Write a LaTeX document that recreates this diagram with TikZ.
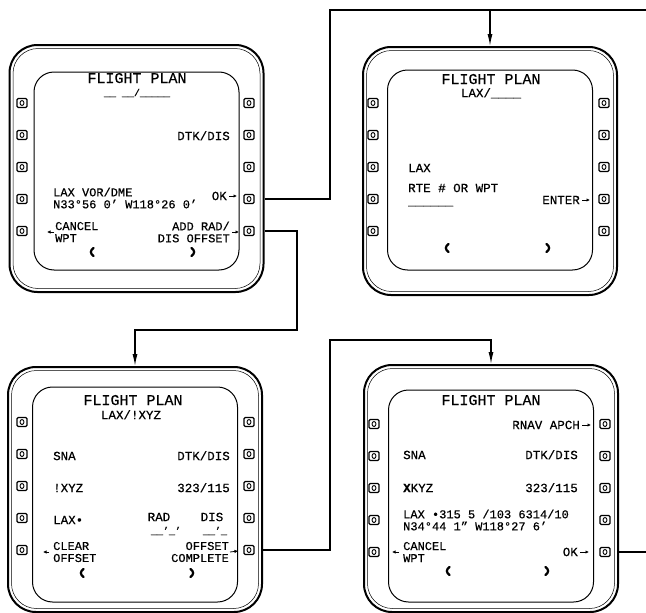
\documentclass[tikz,border=0pt]{standalone}
\usepackage{fontspec}
\setmainfont{Liberation Mono}[FakeBold=0.5]
\usetikzlibrary{arrows.meta}

\tikzset{
  bezel/.style={draw, line width=2pt, rounded corners=28pt, minimum width=254pt, inner sep=0pt},
  bezelin/.style={draw, line width=0.5pt, rounded corners=25pt, minimum width=247pt, inner sep=0pt},
  crt/.style={draw, line width=1pt, rounded corners=20pt, minimum width=205pt, inner sep=0pt},
  lsk/.style={draw, line width=1.3pt, rounded corners=1.2pt, minimum width=10pt, minimum height=9pt, inner sep=0pt,
    path picture={\draw[line width=0.9pt] (path picture bounding box.center) ellipse (2pt and 2.5pt);}},
  ttl/.style={inner sep=0pt, font=\fontsize{15}{16}\selectfont, text height=10pt, text depth=0pt},
  txt/.style={inner sep=0pt, font=\fontsize{12.5}{10}\selectfont, text height=8.2pt, text depth=0pt},
  txtt/.style={inner sep=0pt, font=\fontsize{12}{12}\selectfont},
  blank/.style={inner sep=0pt, font=\fontsize{10}{10}\selectfont, text height=8.2pt, text depth=0pt},
  chev/.style={line width=2.2pt, line cap=round},
  chevl/.pic={\draw[chev] (1.5,-4) .. controls (-2,-1.5) and (-2,1.5) .. (1.5,4);},
  chevr/.pic={\draw[chev] (-1.5,-4) .. controls (2,-1.5) and (2,1.5) .. (-1.5,4);},
  ptr/.style={line width=0.8pt, -{Latex[length=3.5pt,width=3.5pt]}},
  wire/.style={line width=1.2pt},
  flow/.style={wire, -{Latex[length=12pt,width=5pt]}},
}

% one CDU: name, bezel centre x/y, bezel height, screen centre y, screen height,
% key columns left/right, first key row
\newcommand{\cduunit}[9]{%
  \node[bezel, minimum height=#4pt] (#1) at (#2,#3) {};
  \node[bezelin, minimum height={#4pt-7pt}] at (#2,#3) {};
  \node[crt, minimum height=#6pt] (#1crt) at (#2,#5) {};
  \foreach \k in {1,...,5} {
    \node[lsk] (#1l\k) at (#7,{#9+32*(\k-1)}) {};
    \node[lsk] (#1r\k) at (#8,{#9+32*(\k-1)}) {};
  }%
}

\begin{document}
\begin{tikzpicture}[x=1pt, y=-1pt]
  \useasboundingbox (0,0) rectangle (646,613);

  % the four pages
  \cduunit{s1}{136.5}{168.5}{247}{171}{198}{22}{249}{103}
  \cduunit{s2}{490}{171}{248}{170}{200}{373}{604}{103}
  \cduunit{s3}{135}{489.5}{245}{494.5}{215}{22}{249}{422}
  \cduunit{s4}{491}{488.5}{247}{496}{212}{374}{605}{424}

  % page 1
  \node[ttl] (s1t) at (137,78) {FLIGHT PLAN};
  \node[blank] (s1id) at (137,92) {\_\_ \_\_/\_\_\_\_\_};
  \node[txt, anchor=east] (s1dtk) at (230,136) {DTK/DIS};
  \node[txtt, align=left, anchor=west] (s1wpt) at (53,198) {LAX VOR/DME\\N33°56 0' W118°26 0'};
  \node[txt, anchor=east] (s1ok) at (227,196) {OK};
  \node[txtt, align=left, anchor=west] (s1cnl) at (55,232) {CANCEL\\WPT};
  \node[txtt, align=right, anchor=east] (s1add) at (230,232) {ADD RAD/\\DIS OFFSET};
  \draw[ptr] ([xshift=2pt]s1ok.east) -- ++(8,0);
  \draw[ptr] ([xshift=-1pt]s1cnl.west) -- ++(-7,0);
  \draw[ptr] ([xshift=2pt]s1add.east) -- ++(7,0);
  \pic at (92,252) {chevl};
  \pic at (193,252) {chevr};

  % page 2
  \node[ttl] (s2t) at (491,79) {FLIGHT PLAN};
  \node[txt] (s2id) at (491,93) {LAX/\_\_\_\_};
  \node[txt, anchor=west] (s2lax) at (408,168) {LAX};
  \node[txt, anchor=west] (s2rte) at (408,188) {RTE \# OR WPT};
  \node[txt, anchor=west] (s2fld) at (408,201) {\_\_\_\_\_\_};
  \node[txt, anchor=east] (s2ent) at (580,200) {ENTER};
  \draw[ptr] ([xshift=2pt]s2ent.east) -- ++(8,0);
  \pic at (447,248) {chevl};
  \pic at (548,248) {chevr};

  % page 3
  \node[ttl] (s3t) at (133,400) {FLIGHT PLAN};
  \node[txt] (s3id) at (131,415) {LAX/!XYZ};
  \node[txt, anchor=west] (s3sna) at (53,456) {SNA};
  \node[txt, anchor=west] (s3xyz) at (53,488) {!XYZ};
  \node[txt, anchor=west] (s3lax) at (53,520) {LAX•};
  \node[txt, anchor=east] (s3dtk) at (230,456) {DTK/DIS};
  \node[txt, anchor=east] (s3val) at (230,488) {323/115};
  \node[txt] (s3rad) at (159,517) {RAD};
  \node[txt] (s3dis) at (212,517) {DIS};
  \node[blank] (s3radf) at (166,530) {\_\_'\_'};
  \node[blank] (s3disf) at (215,530) {\_\_'\_};
  \node[txtt, align=left, anchor=west] (s3clr) at (53,552) {CLEAR\\OFFSET};
  \node[txtt, align=right, anchor=east] (s3cmp) at (229,552) {OFFSET\\COMPLETE};
  \draw[ptr] ([xshift=-4pt]s3clr.west) -- ++(-6,0);
  \draw[ptr] ([xshift=1pt]s3cmp.east) -- ++(8,-1);
  \pic at (82,573) {chevl};
  \pic at (192,573) {chevr};

  % page 4
  \node[ttl] (s4t) at (491,400) {FLIGHT PLAN};
  \node[txt, anchor=east] (s4rnv) at (580,425) {RNAV APCH};
  \node[txt, anchor=west] (s4sna) at (403,455) {SNA};
  \node[txt, anchor=east] (s4dtk) at (578,455) {DTK/DIS};
  \node[txt, anchor=west] (s4xyz) at (403,488) {\textbf{X}KYZ};
  \node[txt, anchor=east] (s4val) at (578,488) {323/115};
  \node[txtt, align=left, anchor=west] (s4wpt) at (403,520) {LAX •315 5 /103 6314/10\\N34°44 1" W118°27 6'};
  \node[txtt, align=left, anchor=west] (s4cnl) at (403,552) {CANCEL\\WPT};
  \node[txt, anchor=east] (s4ok) at (578,552) {OK};
  \draw[ptr] ([xshift=2pt]s4rnv.east) -- ++(9,0);
  \draw[ptr] ([xshift=-4pt]s4cnl.west) -- ++(-7,0);
  \draw[ptr] ([xshift=2pt]s4ok.east) -- ++(9,0);
  \pic at (448,571) {chevl};
  \pic at (547,571) {chevr};

  % connectors
  \coordinate (j1) at (330,10);
  \coordinate (topend) at (646,10);
  \coordinate (j2) at (297,330);
  \coordinate (j3) at (330,340);
  \coordinate (okend) at (646,552);
  \draw[wire] (s1r4 -| s1.east) -| (j1) -- (topend);
  \draw[flow] (s2.north |- j1) -- (s2.north);
  \draw[flow] (s1r5 -| s1.east) -| (j2) -| (s3.north);
  \draw[flow] (s3r5 -| s3.east) -| (j3) -| (s4.north);
  \draw[wire] (s4r5 -| s4.east) -- (okend);
\end{tikzpicture}
\end{document}
